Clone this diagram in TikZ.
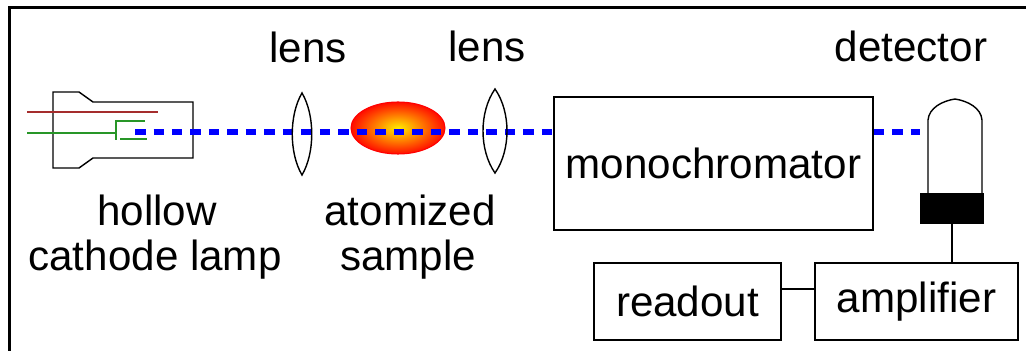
\documentclass[tikz,border=0pt]{standalone}
\usepackage{fontspec}
\setmainfont{Liberation Sans}

\definecolor{anod}{RGB}{165,45,45}
\definecolor{katod}{RGB}{40,150,40}

\tikzset{
    every node/.style={font=\fontsize{24}{28}\selectfont},
    blok/.style={draw, line width=1.1pt, inner sep=0pt},
    tonk/.style={line width=0.8pt},
    luch/.style={blue, line width=3.4pt, dash pattern=on 0.21cm off 0.16cm},
}

\begin{document}
\begin{tikzpicture}[x=0.02cm, y=-0.02cm]
            \useasboundingbox ( 0, 0 ) rectangle ( 1026, 351 );

            % рамка
            \draw [line width=1.7pt] ( 9.5, 351 ) -- ( 9.5, 7.5 ) -- ( 1026, 7.5 );

            % лампа
            \draw [tonk] ( 53, 92 ) -- ( 79, 92 ) -- ( 93, 102 ) -- ( 193, 102 ) -- ( 193, 158 ) -- ( 93, 158 ) -- ( 79, 168 ) -- ( 53, 168 ) -- cycle;
            \draw [tonk, anod] ( 27, 112 ) -- ( 158, 112 );
            \draw [tonk, katod] ( 27, 133 ) -- ( 116, 133 );
            \draw [tonk, katod] ( 145, 121 ) -- ( 116, 121 ) -- ( 116, 140 );
            \draw [tonk, katod] ( 120, 139 ) -- ( 147, 139 );
            \coordinate (src) at ( 135, 132 );

            % образец
            \shade [inner color=yellow!85!orange, outer color=red!90!orange] ( 398, 128 ) ellipse ( 47 and 26 );
            \draw [line width=0.6pt, red] ( 398, 128 ) ellipse ( 47 and 26 );

            % блоки
            \node [blok, minimum width=6.38cm, minimum height=2.66cm] (mono) at ( 713.5, 163.5 ) {monochromator};
            \node [blok, minimum width=3.74cm, minimum height=1.54cm] (readout) at ( 687.5, 301.5 ) {readout};
            \node [blok, minimum width=4.06cm, minimum height=1.54cm] (amp) at ( 916.5, 301.5 ) {amplifier};

            % детектор
            \node [fill, inner sep=0pt, minimum width=1.28cm, minimum height=0.62cm] (base) at ( 952, 208.5 ) {};
            \draw [tonk] ( 928, 193 ) -- ( 928, 120 ) .. controls ( 929, 108 ) and ( 942, 101 ) .. ( 955, 99 ) .. controls ( 968, 101 ) and ( 981, 108 ) .. ( 982, 120 ) -- ( 982, 193 );
            \coordinate (det) at ( 920, 132 );

            % луч
            \draw [luch] (src) -- (mono.west |- src);
            \draw [luch] (mono.east |- det) -- (det);

            % линзы
            \draw [tonk] ( 302, 93 ) .. controls ( 289, 115 ) and ( 289, 153 ) .. ( 302, 175 ) .. controls ( 315, 153 ) and ( 315, 115 ) .. cycle;
            \draw [tonk] ( 495, 89 ) .. controls ( 479, 112 ) and ( 479, 150 ) .. ( 495, 173 ) .. controls ( 511, 150 ) and ( 511, 112 ) .. cycle;

            % провода
            \draw [tonk] (base.south) -- (base.south |- amp.north);
            \draw [tonk] ([yshift=0.25cm]readout.east) -- ([yshift=0.25cm]amp.west);

            % подписи
            \node [anchor=base] (lens1) at ( 308, 63 ) {lens};
            \node [anchor=base] (lens2) at ( 487, 62 ) {lens};
            \node [anchor=base] (detlbl) at ( 911, 62 ) {detector};
            \node [anchor=base] (hollow) at ( 157, 225 ) {hollow};
            \node [anchor=base] (lamp) at ( 155, 270 ) {cathode lamp};
            \node [anchor=base] (atom) at ( 410, 225 ) {atomized};
            \node [anchor=base] (sample) at ( 408, 270 ) {sample};
\end{tikzpicture}
\end{document}
